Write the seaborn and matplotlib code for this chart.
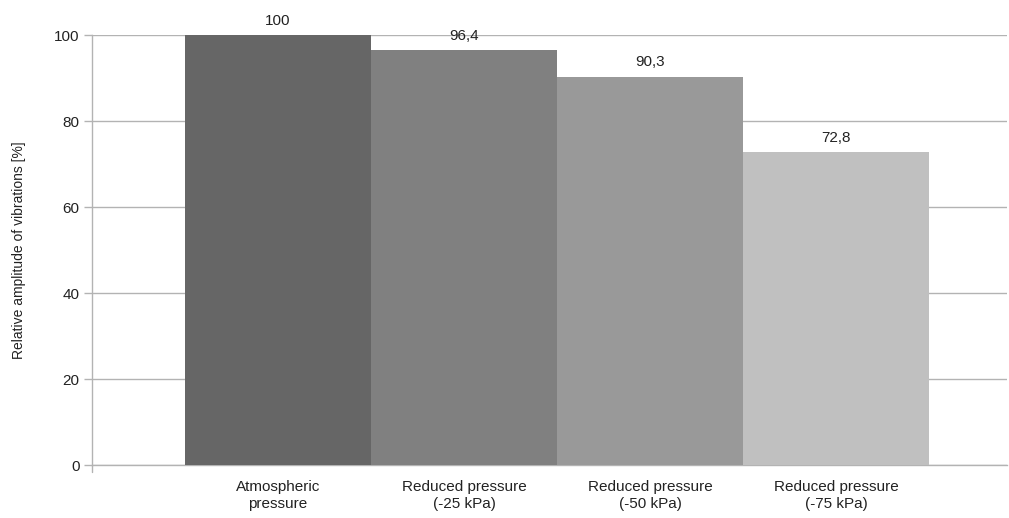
import matplotlib
matplotlib.use("Agg")
import matplotlib.pyplot as plt
import seaborn as sns
import pandas as pd

categories = ["Atmospheric\npressure", "Reduced pressure\n(-25 kPa)",
              "Reduced pressure\n(-50 kPa)", "Reduced pressure\n(-75 kPa)"]
values = [100, 96.4, 90.3, 72.8]
value_labels = ["100", "96,4", "90,3", "72,8"]
colors = ["#666666", "#808080", "#999999", "#c0c0c0"]
yticks = [0, 20, 40, 60, 80, 100]

sns.set_theme(style="white")
plt.rcParams['font.family'] = ['Liberation Sans', 'DejaVu Sans']

fig = plt.figure(figsize=(10.09, 5.18), dpi=100)
ax = fig.add_axes([0.0912, 0.1023, 0.907, 0.8301])

df = pd.DataFrame({"cat": categories, "val": values})
sns.barplot(data=df, x="cat", y="val", hue="cat", palette=colors,
            width=1.0, dodge=False, legend=False, ax=ax, saturation=1,
            linewidth=0, zorder=3)

ax.set_xlim(-1.0, 3.92)
ax.set_ylim(0, 100)
ax.set_yticks(yticks)
ax.set_yticklabels([str(t) for t in yticks], fontsize=11, color="#222222")
ax.yaxis.grid(True, color="#b3b3b3", linewidth=1, zorder=0)
ax.set_axisbelow(True)
ax.tick_params(axis="y", length=6, color="#b3b3b3", width=1, pad=3, left=True)
ax.tick_params(axis="x", length=0, pad=11, labelsize=11, labelcolor="#222222")
for t in ax.get_xticklabels():
    t.set_linespacing(1.25)
ax.set_xlabel("")
ax.set_ylabel("Relative amplitude of vibrations [%]", fontsize=10, color="#222222", labelpad=20)

for s in ["top", "right"]:
    ax.spines[s].set_visible(False)
for s in ["left", "bottom"]:
    ax.spines[s].set_color("#b3b3b3")
    ax.spines[s].set_linewidth(1)

for i, (v, lab) in enumerate(zip(values, value_labels)):
    ax.text(i, v + 1.7, lab, ha="center", va="bottom", fontsize=11, color="#222222")

ax.plot([-1.0, -1.0], [0, -1.7], color="#b3b3b3", lw=1, clip_on=False)

fig.savefig("out.png", dpi=100)
